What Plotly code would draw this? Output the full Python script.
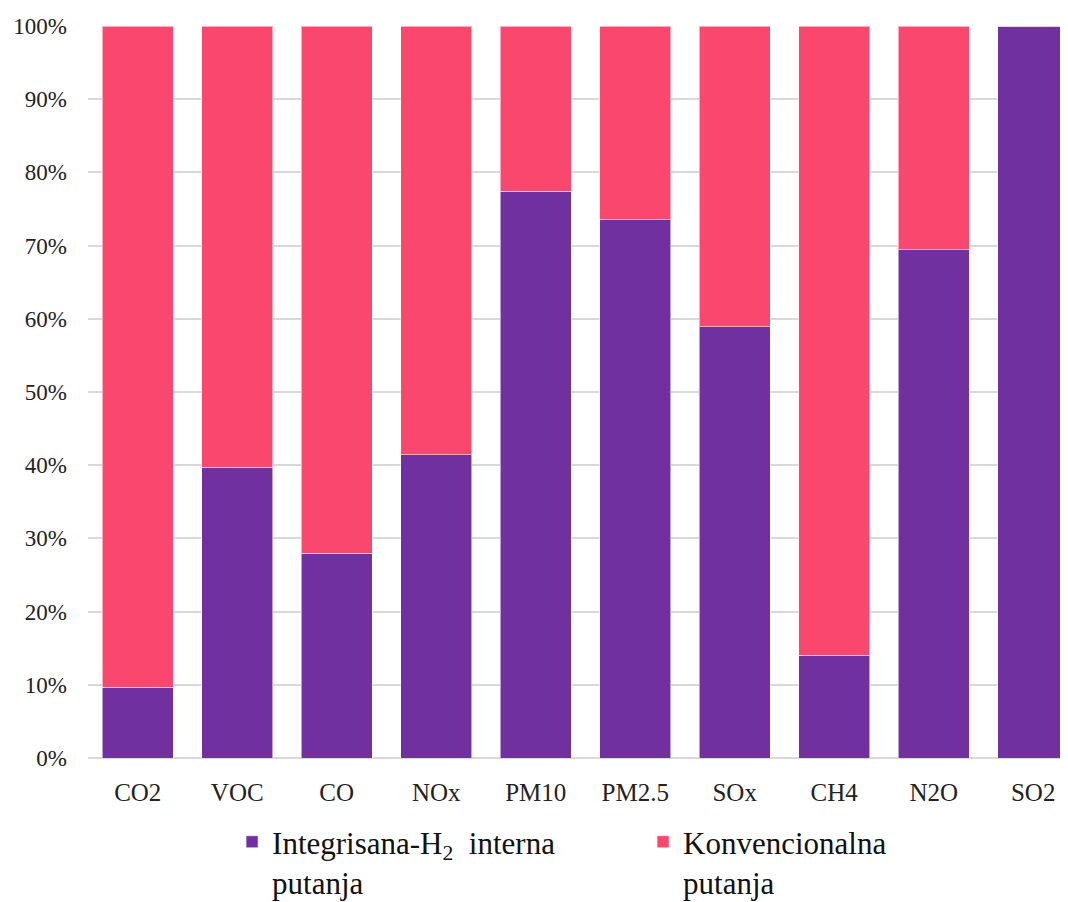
import plotly.graph_objects as go

categories = ["CO2", "VOC", "CO", "NOx", "PM10", "PM2.5", "SOx", "CH4", "N2O", "SO2"]
integrated = [9.65, 39.7, 28.0, 41.4, 77.45, 73.5, 58.9, 14.05, 69.45, 100.0]
conventional = [100 - v for v in integrated]
tick_vals = [0, 10, 20, 30, 40, 50, 60, 70, 80, 90, 100]
tick_text = [f"{v}%" for v in tick_vals]

name_int = "Integrisana-H<sub>2</sub>  interna<br>putanja"
name_conv = "Konvencionalna<br>putanja"

PURPLE = "#7030A0"
PINK = "#F9476D"
FONT = "Liberation Serif"

fig = go.Figure()
fig.add_trace(go.Bar(x=categories, y=integrated, name=name_int,
                     marker=dict(color=PURPLE, line=dict(color="rgba(255,255,255,0.55)", width=1))))
fig.add_trace(go.Bar(x=categories, y=conventional, name=name_conv,
                     marker=dict(color=PINK, line=dict(color="rgba(255,255,255,0.55)", width=1))))

fig.update_layout(
    barmode="stack",
    bargap=0.29,
    width=1060, height=894,
    margin=dict(l=80, r=0, t=18, b=144, autoexpand=False),
    paper_bgcolor="white", plot_bgcolor="white",
    font=dict(family=FONT, color="#222222"),
    legend=dict(orientation="h", x=0.147, xanchor="left", y=-0.078, yanchor="top",
                font=dict(size=31, family=FONT, color="#111111"),
                valign="top", entrywidth=366, traceorder="normal"),
    showlegend=True,
)
fig.update_xaxes(range=[-0.5, 9.35], showgrid=False, showline=False, ticks="",
                 tickfont=dict(size=25, family=FONT, color="#222222"), ticklabelstandoff=17)
fig.update_yaxes(range=[0, 100], tickvals=tick_vals, ticktext=tick_text,
                 showgrid=True, gridcolor="#d9d9d9", gridwidth=1.5,
                 zeroline=True, zerolinecolor="#d9d9d9", zerolinewidth=1.5,
                 tickfont=dict(size=23, family=FONT, color="#222222"), ticklabelstandoff=20)

fig.write_html("out.html")
